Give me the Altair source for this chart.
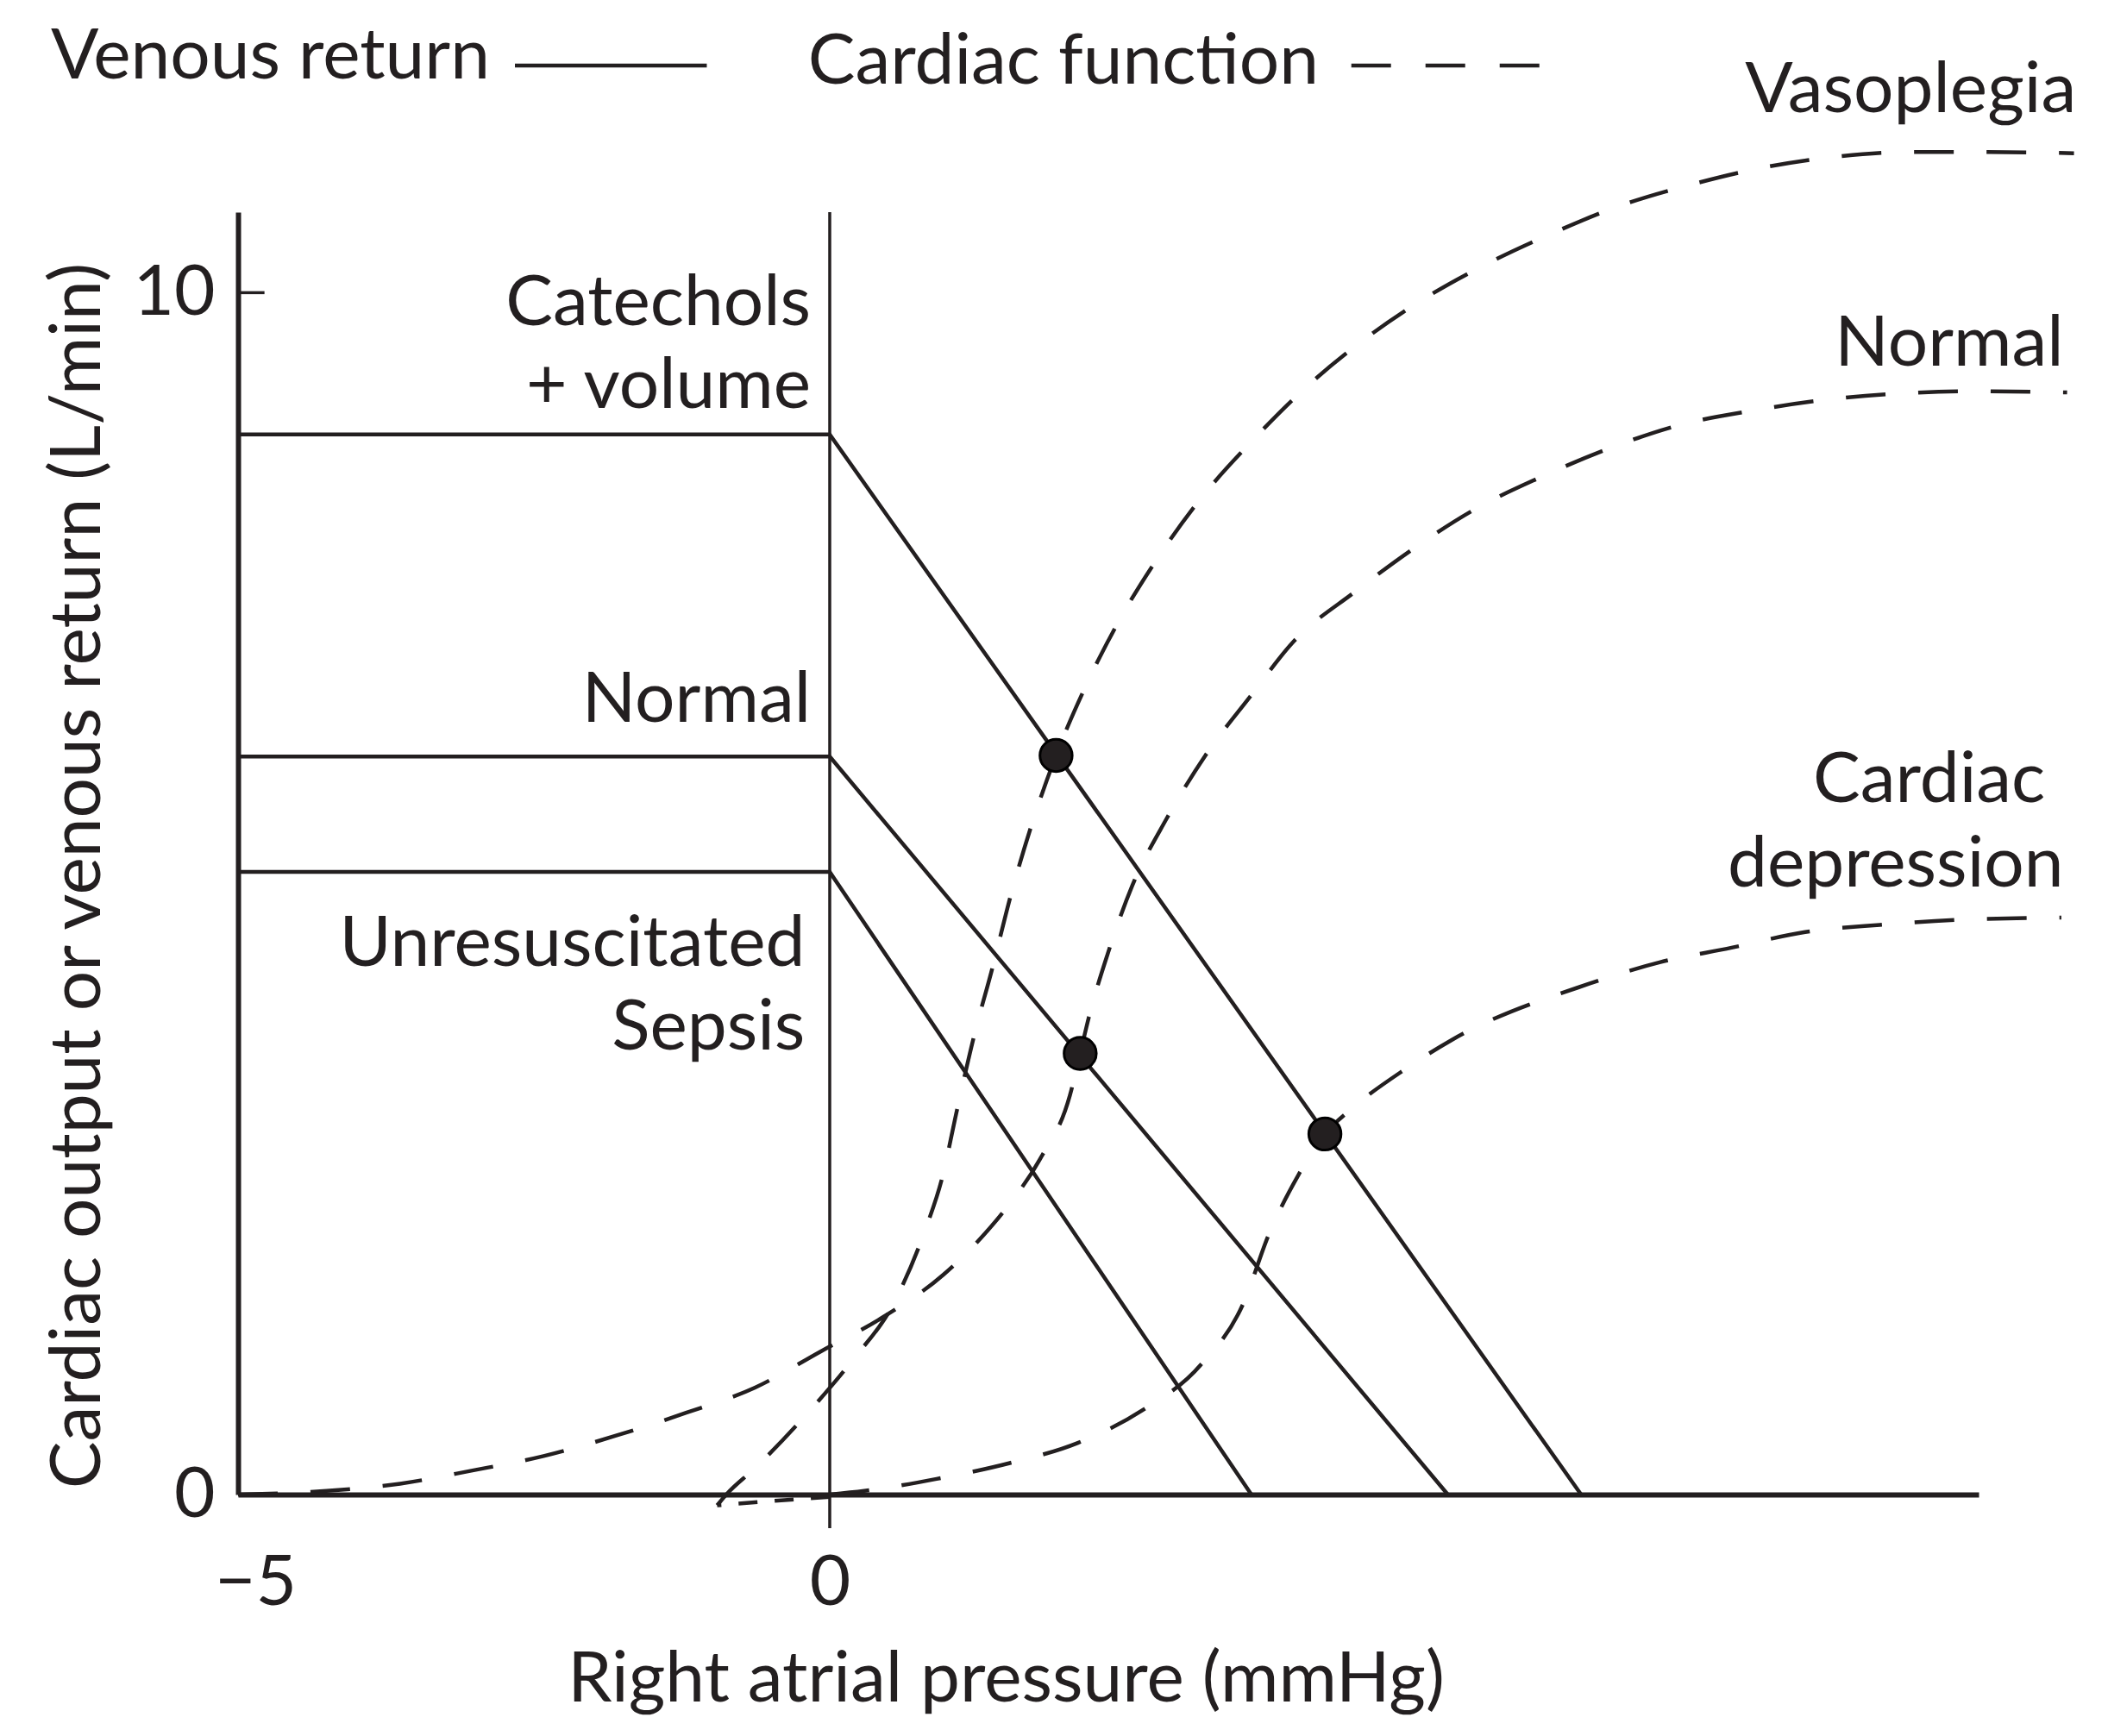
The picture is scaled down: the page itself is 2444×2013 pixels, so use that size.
import altair as alt
import pandas as pd

FONT = "Lato"
FS = 82
INK = "#231f20"

x_domain = [-5.15, 10.0]
y_domain = [0.0, 10.67]

# ---- Venous return curves (solid) ----
vr_names = ["Catechols + volume", "Normal", "Unresuscitated sepsis"]
vr_plateau = [8.82, 6.14, 5.18]
vr_zero_x = [6.54, 5.38, 3.67]

# ---- Cardiac function curves (dashed) ----
vaso_x = [-0.98, -0.9, -0.65, -0.2, 0.2, 0.55, 0.83, 0.98, 1.11, 1.26, 1.41, 1.58, 1.76, 1.97,
          2.23, 2.53, 2.86, 3.24, 3.66, 4.12, 4.61, 5.14, 5.7, 6.28, 6.87, 7.5, 8.12, 8.74,
          9.39, 10.05, 10.83]
vaso_y = [-0.09, 0.0, 0.22, 0.67, 1.12, 1.58, 2.2, 2.64, 3.21, 3.83, 4.36, 5.0, 5.58, 6.15,
          6.73, 7.29, 7.8, 8.3, 8.75, 9.19, 9.58, 9.93, 10.23, 10.49, 10.72, 10.9, 11.04, 11.13,
          11.17, 11.17, 11.16]
vaso_tail_x = [0.0, -0.45, -0.85, -0.98]
vaso_tail_y = [-0.02, -0.05, -0.08, -0.09]
norm_x = [-5.15, -4.38, -3.74, -3.11, -2.49, -1.86, -1.25, -0.65, -0.08, 0.47, 0.99, 1.34, 1.55,
          1.83, 2.09, 2.18, 2.255, 2.42, 2.635, 2.93, 3.27, 3.66, 4.04, 4.57, 5.08, 5.62, 6.2,
          6.8, 7.4, 8.04, 8.68, 9.29, 9.94, 10.77]
norm_y = [0.0, 0.03, 0.09, 0.2, 0.32, 0.49, 0.68, 0.89, 1.19, 1.48, 1.83, 2.16, 2.4,
          2.79, 3.32, 3.67, 3.97, 4.5, 5.07, 5.62, 6.15, 6.64, 7.1, 7.51, 7.87, 8.2, 8.47,
          8.71, 8.9, 9.02, 9.11, 9.16, 9.18, 9.17]
dep_x = [0.0, 0.3, 0.93, 1.56, 2.16, 2.72, 3.23, 3.6, 3.82, 4.08, 4.31, 4.53, 5.01, 5.41,
         6.61, 7.23, 7.85, 8.49, 9.14, 9.79, 10.72]
dep_y = [0.0, 0.03, 0.13, 0.26, 0.43, 0.7, 1.08, 1.59, 2.16, 2.66, 3.0, 3.2, 3.54, 3.78,
         4.25, 4.43, 4.55, 4.68, 4.74, 4.78, 4.8]

# ---- Equilibrium points ----
eq_x = [1.97, 2.18, 4.31]
eq_y = [6.15, 3.67, 3.0]

# ---- Curve labels (data units) ----
lab_text = ["Catechols", "+ volume", "Normal", "Unresuscitated", "Sepsis",
            "Vasoplegia", "Normal", "Cardiac", "depression"]
lab_x = [-0.165, -0.165, -0.165, -0.215, -0.215, 10.85, 10.74, 10.58, 10.74]
lab_y = [9.73, 9.04, 6.43, 4.40, 3.70, 11.50, 9.39, 5.76, 5.06]

# ---- Legend ----
leg_text = ["Venous return", "Cardiac function"]
leg_text_x = [-6.78, -0.19]
leg_text_y = [11.78, 11.74]
leg_solid = [-2.74, -1.07]
leg_dash = [4.54, 6.18]
leg_line_y = 11.89

# ---------------- build tables ----------------
vr_rows = []
for n, p, z in zip(vr_names, vr_plateau, vr_zero_x):
    for i, (xx, yy) in enumerate([(x_domain[0], p), (0.0, p), (z, 0.0)]):
        vr_rows.append({"series": n, "order": i, "x": xx, "y": yy})
vr_df = pd.DataFrame(vr_rows)

cf_rows = []
for n, xs, ys in [("Vasoplegia", vaso_x, vaso_y), ("Normal", norm_x, norm_y),
                  ("Cardiac depression", dep_x, dep_y)]:
    for i, (xx, yy) in enumerate(zip(xs, ys)):
        cf_rows.append({"series": n, "order": i, "x": xx, "y": yy})
cf_df = pd.DataFrame(cf_rows)
tail_df = pd.DataFrame({"x": vaso_tail_x, "y": vaso_tail_y, "order": range(len(vaso_tail_x))})

eq_df = pd.DataFrame({"x": eq_x, "y": eq_y})
lab_df = pd.DataFrame({"x": lab_x, "y": lab_y, "t": lab_text})
leg_df = pd.DataFrame({"x": leg_text_x, "y": leg_text_y, "t": leg_text})
zero_df = pd.DataFrame({"x": [0.0], "y": [-0.28], "y2": [y_domain[1]]})
tick_df = pd.DataFrame({"x": [x_domain[0]], "x2": [-4.92], "y": [10.0]})
leg_solid_df = pd.DataFrame({"x": [leg_solid[0]], "x2": [leg_solid[1]], "y": [leg_line_y]})
leg_dash_df = pd.DataFrame({"x": [leg_dash[0]], "x2": [leg_dash[1]], "y": [leg_line_y]})

xs_ = alt.Scale(domain=x_domain, nice=False, zero=False)
ys_ = alt.Scale(domain=y_domain, nice=False, zero=False)

x_axis = alt.Axis(values=[-5, 0], title="Right atrial pressure (mmHg)",
                  labelFont=FONT, labelFontSize=FS, labelColor=INK, labelPadding=127,
                  labelBaseline="alphabetic", labelFlush=False, labelOverlap=False,
                  ticks=False, tickSize=0, grid=False, domainColor=INK, domainWidth=6,
                  titleFont=FONT, titleFontSize=FS, titleFontWeight="normal", titleColor=INK,
                  titleX=890, titleY=239, titleAlign="center", titleBaseline="alphabetic")
y_axis = alt.Axis(values=[0, 10], title="Cardiac output or venous return (L/min)",
                  labelFont=FONT, labelFontSize=FS, labelColor=INK, labelPadding=27,
                  labelOverlap=False, ticks=False, tickSize=0, grid=False,
                  domainColor=INK, domainWidth=6,
                  titleFont=FONT, titleFontSize=FS, titleFontWeight="normal", titleColor=INK,
                  titleAngle=270, titleX=-161, titleY=769, titleAlign="center",
                  titleBaseline="alphabetic")

X = alt.X("x:Q", scale=xs_, axis=x_axis)
Y = alt.Y("y:Q", scale=ys_, axis=y_axis)

vr = alt.Chart(vr_df).mark_line(color=INK, strokeWidth=4.5).encode(
    x=X, y=Y, detail="series:N", order="order:Q")

cf = alt.Chart(cf_df).mark_line(color=INK, strokeWidth=4.5, strokeDash=[46, 38],
                                interpolate="monotone").encode(
    x=X, y=Y, detail="series:N", order="order:Q")

tail = alt.Chart(tail_df).mark_line(color=INK, strokeWidth=4.5, strokeDash=[22, 20]).encode(
    x=X, y=Y, order="order:Q")

zero_line = alt.Chart(zero_df).mark_rule(color=INK, strokeWidth=3.5).encode(
    x=X, y=Y, y2="y2:Q")

ytick = alt.Chart(tick_df).mark_rule(color=INK, strokeWidth=3.5).encode(
    x=X, x2="x2:Q", y=Y)

dots = alt.Chart(eq_df).mark_point(filled=True, shape="circle", size=1400, color=INK,
                                   stroke="#000000", strokeWidth=3, opacity=1).encode(x=X, y=Y)

labels = alt.Chart(lab_df).mark_text(align="right", baseline="alphabetic", font=FONT,
                                     fontSize=FS, color=INK).encode(x=X, y=Y, text="t:N")

leg_labels = alt.Chart(leg_df).mark_text(align="left", baseline="alphabetic", font=FONT,
                                         fontSize=FS, color=INK).encode(x=X, y=Y, text="t:N")

leg_s = alt.Chart(leg_solid_df).mark_rule(color=INK, strokeWidth=4.5).encode(x=X, x2="x2:Q", y=Y)
leg_d = alt.Chart(leg_dash_df).mark_rule(color=INK, strokeWidth=4.5, strokeDash=[46, 40]).encode(
    x=X, x2="x2:Q", y=Y)

chart = alt.layer(vr, cf, tail, zero_line, ytick, dots, labels, leg_labels, leg_s, leg_d).properties(
    width=2018, height=1487,
    autosize=alt.AutoSizeParams(type="none"),
    padding={"left": 268, "top": 238, "right": 140, "bottom": 260},
    background="white",
).configure_view(stroke="transparent")

chart.save("out.html", embed_options={"renderer": "svg", "actions": False})
